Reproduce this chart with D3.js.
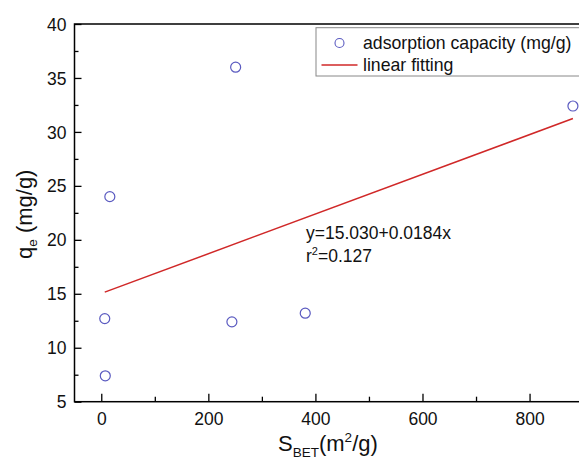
<!DOCTYPE html>
<html>
<head>
<meta charset="utf-8">
<script src="https://cdn.jsdelivr.net/npm/d3@7"></script>
<style>
  html, body { margin: 0; padding: 0; background: #fff; }
  svg { display: block; font-family: "Liberation Sans", Arial, sans-serif; }
</style>
</head>
<body>
<svg id="chart" width="579" height="461"></svg>
<script>
// Data
const sbet = [6.5, 7.5, 16, 244, 251, 381, 881];
const qe   = [12.7, 7.4, 24.0, 12.4, 36.0, 13.2, 32.4];
const fitIntercept = 15.030;
const fitSlope = 0.0184;
const xTicks = [0, 200, 400, 600, 800];
const xMinorTicks = [100, 300, 500, 700];
const yTicks = [5, 10, 15, 20, 25, 30, 35, 40];
const yMinorTicks = [7.5, 12.5, 17.5, 22.5, 27.5, 32.5, 37.5];
const legendLabels = ["adsorption capacity (mg/g)", "linear fitting"];
const annotation = ["y=15.030+0.0184x", "0.127"];

const svg = d3.select("#chart");
const mLeft = 74.5, mRight = 583.1, mTop = 24, mBottom = 401.7;
const x = d3.scaleLinear().domain([-50, 900]).range([mLeft, mRight]);
const y = d3.scaleLinear().domain([5, 40]).range([mBottom, mTop]);

const pointColor = "#5a5ac0";
const lineColor = "#d02828";

// Frame
svg.append("rect").attr("x", mLeft).attr("y", mTop)
  .attr("width", mRight - mLeft).attr("height", mBottom - mTop)
  .attr("fill", "none").attr("stroke", "#000").attr("stroke-width", 1.5);

// X axis ticks (inward)
const gx = svg.append("g").attr("transform", `translate(0,${mBottom})`)
  .call(d3.axisBottom(x).tickValues(xTicks).tickSize(-8).tickPadding(0).tickFormat(d3.format("d")));
gx.select(".domain").remove();
gx.selectAll(".tick line").attr("stroke", "#000").attr("stroke-width", 1.3);
gx.selectAll(".tick text").attr("y", 23).attr("dy", 0)
  .attr("font-size", 17.5).attr("fill", "#111").attr("font-family", "Liberation Sans, Arial, sans-serif");
const gxm = svg.append("g").attr("transform", `translate(0,${mBottom})`)
  .call(d3.axisBottom(x).tickValues(xMinorTicks).tickSize(-5).tickFormat(""));
gxm.select(".domain").remove();
gxm.selectAll(".tick line").attr("stroke", "#000").attr("stroke-width", 1.3);

// Y axis ticks (inward)
const gy = svg.append("g").attr("transform", `translate(${mLeft},0)`)
  .call(d3.axisLeft(y).tickValues(yTicks).tickSize(-7).tickPadding(0).tickFormat(d3.format("d")));
gy.select(".domain").remove();
gy.selectAll(".tick line").attr("stroke", "#000").attr("stroke-width", 1.3);
gy.selectAll(".tick text").attr("x", -8).attr("dy", "0.35em")
  .attr("font-size", 17.5).attr("fill", "#111").attr("font-family", "Liberation Sans, Arial, sans-serif");
const gym = svg.append("g").attr("transform", `translate(${mLeft},0)`)
  .call(d3.axisLeft(y).tickValues(yMinorTicks).tickSize(-4).tickFormat(""));
gym.select(".domain").remove();
gym.selectAll(".tick line").attr("stroke", "#000").attr("stroke-width", 1.3);

// Fit line
const xMin = d3.min(sbet), xMax = d3.max(sbet);
svg.append("line")
  .attr("x1", x(xMin)).attr("y1", y(fitIntercept + fitSlope * xMin))
  .attr("x2", x(xMax)).attr("y2", y(fitIntercept + fitSlope * xMax))
  .attr("stroke", lineColor).attr("stroke-width", 1.5);

// Points
svg.append("g").selectAll("circle").data(sbet).join("circle")
  .attr("cx", (d) => x(d)).attr("cy", (d, i) => y(qe[i])).attr("r", 5)
  .attr("fill", "none").attr("stroke", pointColor).attr("stroke-width", 1.2);

// Legend
const lg = svg.append("g");
lg.append("rect").attr("x", 316).attr("y", 27.7).attr("width", 290).attr("height", 48.3)
  .attr("fill", "#fff").attr("stroke", "#888").attr("stroke-width", 1);
lg.append("circle").attr("cx", 339.5).attr("cy", 43).attr("r", 4.5)
  .attr("fill", "none").attr("stroke", pointColor).attr("stroke-width", 1.1);
lg.append("text").attr("x", 363).attr("y", 49).attr("font-size", 17.7).attr("fill", "#111")
  .text(legendLabels[0]);
lg.append("line").attr("x1", 321.5).attr("x2", 357.5).attr("y1", 65).attr("y2", 65)
  .attr("stroke", lineColor).attr("stroke-width", 1.5);
lg.append("text").attr("x", 363).attr("y", 71).attr("font-size", 17.7).attr("fill", "#111")
  .text(legendLabels[1]);

// Annotation
svg.append("text").attr("x", 306).attr("y", 239).attr("font-size", 17.5).attr("fill", "#111")
  .text(annotation[0]);
const r2 = svg.append("text").attr("x", 306).attr("y", 262).attr("font-size", 17.5).attr("fill", "#111");
r2.append("tspan").text("r");
r2.append("tspan").attr("font-size", 11).attr("dy", -7).text("2");
r2.append("tspan").attr("dy", 7).text("=" + annotation[1]);

// X axis title
const xt = svg.append("text").attr("x", 278).attr("y", 451).attr("font-size", 22).attr("fill", "#111");
xt.append("tspan").text("S");
xt.append("tspan").attr("font-size", 13.5).attr("dy", 6).text("BET");
xt.append("tspan").attr("dy", -6).text("(m");
xt.append("tspan").attr("font-size", 13.5).attr("dy", -9).text("2");
xt.append("tspan").attr("dy", 9).text("/g)");

// Y axis title
const yt = svg.append("text").attr("transform", "translate(32,259) rotate(-90)")
  .attr("font-size", 22).attr("fill", "#111");
yt.append("tspan").text("q");
yt.append("tspan").attr("font-size", 13.5).attr("dy", 5).text("e");
yt.append("tspan").attr("dy", -5).text(" (mg/g)");
</script>
</body>
</html>
